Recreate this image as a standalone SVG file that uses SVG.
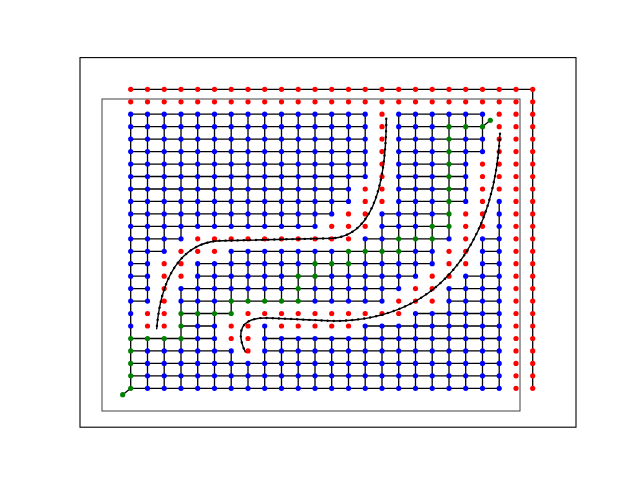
<svg xmlns="http://www.w3.org/2000/svg" width="640" height="480" viewBox="0 0 640 480">
<style>
.e{fill:none;stroke:#000;stroke-width:1.3}
.c{fill:none;stroke:#000;stroke-width:1.4;stroke-linecap:round;stroke-linejoin:round}
.m{fill:none;stroke:#000;stroke-width:2.4;stroke-linecap:round;stroke-dasharray:0.1 6}
</style>
<defs>
<circle id="b" r="2.6" fill="#0000ff"/>
<circle id="r" r="2.6" fill="#ff0000"/>
<circle id="g" r="2.6" fill="#008000"/>
<path id="curve1" d="M386.3 118.7C386 190 370 236 332 238.3L222 240.7C190 241 162 265 156.7 328.7"/>
<path id="curve2" d="M500 133.7C495 230 450 320 334 321L268 318C240 317 236 332 245.3 352"/>
</defs>
<rect width="640" height="480" fill="#fff"/>
<rect id="axes" x="80" y="57.6" width="496" height="369.6" fill="none" stroke="#000" stroke-width="1.1"/>
<rect id="bbox" x="102" y="99" width="418" height="312" fill="none" stroke="#404040" stroke-width="1"/>
<g id="connectors">
<path class="e" d="M130.7 89.3H532.7V388.3"/>
<path class="e" d="M130.7 114.2H365.2M398.7 114.2H482.5M130.7 126.7H365.2M398.7 126.7H482.5M130.7 139.1H365.2M398.7 139.1H482.5M130.7 151.6H365.2M398.7 151.6H482.5M130.7 164.1H365.2M398.7 164.1H465.7M130.7 176.5H365.2M398.7 176.5H465.7M130.7 189H348.5M398.7 189H465.7M130.7 201.4H348.5M398.7 201.4H465.7M130.7 213.9H331.7M382 213.9H449M130.7 226.3H315M382 226.3H449M130.7 238.8H181M365.2 238.8H449M482.5 238.8H499.2M130.7 251.3H164.2M231.2 251.3H432.2M482.5 251.3H499.2M130.7 263.7H147.5M197.7 263.7H432.2M482.5 263.7H499.2M130.7 276.2H147.5M197.7 276.2H415.5M465.7 276.2H499.2M130.7 288.6H147.5M181 288.6H398.7M449 288.6H499.2M130.7 301.1H147.5M181 301.1H382M449 301.1H499.2M181 313.5H231.2M415.5 313.5H499.2M181 326H214.5M365.2 326H499.2M130.7 338.5H214.5M264.7 338.5H499.2M130.7 350.9H231.2M264.7 350.9H499.2M130.7 363.4H499.2M130.7 375.8H499.2M130.7 388.3H499.2"/>
<path class="e" d="M130.7 114.2V388.3M147.5 114.2V301.1M147.5 338.5V388.3M164.2 114.2V251.3M164.2 338.5V388.3M181 114.2V238.8M181 288.6V388.3M197.7 114.2V226.3M197.7 263.7V388.3M214.5 114.2V226.3M214.5 263.7V388.3M231.2 114.2V226.3M231.2 251.3V313.5M231.2 350.9V388.3M248 114.2V226.3M248 251.3V301.1M248 363.4V388.3M264.7 114.2V226.3M264.7 251.3V301.1M264.7 326V388.3M281.5 114.2V226.3M281.5 251.3V301.1M281.5 338.5V388.3M298.2 114.2V226.3M298.2 251.3V301.1M298.2 338.5V388.3M315 114.2V226.3M315 251.3V301.1M315 338.5V388.3M331.7 114.2V213.9M331.7 251.3V301.1M331.7 338.5V388.3M348.5 114.2V201.4M348.5 251.3V301.1M348.5 338.5V388.3M365.2 114.2V176.5M365.2 238.8V301.1M365.2 326V388.3M382 213.9V301.1M382 326V388.3M398.7 114.2V288.6M398.7 326V388.3M415.5 114.2V276.2M415.5 313.5V388.3M432.2 114.2V263.7M432.2 313.5V388.3M449 114.2V238.8M449 288.6V388.3M465.7 114.2V201.4M465.7 276.2V388.3M482.5 114.2V151.6M482.5 238.8V388.3M499.2 201.4V388.3"/>
<path class="e" d="M490.3 120.3L482.5 126.7M122.7 394.7L130.7 388.3"/>
</g>
<g id="nodes">
<g id="row0" transform="translate(0 89.3)"><use href="#r" x="130.7"/><use href="#r" x="147.5"/><use href="#r" x="164.2"/><use href="#r" x="181"/><use href="#r" x="197.7"/><use href="#r" x="214.5"/><use href="#r" x="231.2"/><use href="#r" x="248"/><use href="#r" x="264.7"/><use href="#r" x="281.5"/><use href="#r" x="298.2"/><use href="#r" x="315"/><use href="#r" x="331.7"/><use href="#r" x="348.5"/><use href="#r" x="365.2"/><use href="#r" x="382"/><use href="#r" x="398.7"/><use href="#r" x="415.5"/><use href="#r" x="432.2"/><use href="#r" x="449"/><use href="#r" x="465.7"/><use href="#r" x="482.5"/><use href="#r" x="499.2"/><use href="#r" x="516"/><use href="#r" x="532.7"/></g>
<g id="row1" transform="translate(0 101.8)"><use href="#r" x="130.7"/><use href="#r" x="147.5"/><use href="#r" x="164.2"/><use href="#r" x="181"/><use href="#r" x="197.7"/><use href="#r" x="214.5"/><use href="#r" x="231.2"/><use href="#r" x="248"/><use href="#r" x="264.7"/><use href="#r" x="281.5"/><use href="#r" x="298.2"/><use href="#r" x="315"/><use href="#r" x="331.7"/><use href="#r" x="348.5"/><use href="#r" x="365.2"/><use href="#r" x="382"/><use href="#r" x="398.7"/><use href="#r" x="415.5"/><use href="#r" x="432.2"/><use href="#r" x="449"/><use href="#r" x="465.7"/><use href="#r" x="482.5"/><use href="#r" x="499.2"/><use href="#r" x="516"/><use href="#r" x="532.7"/></g>
<g id="row2" transform="translate(0 114.2)"><use href="#b" x="130.7"/><use href="#b" x="147.5"/><use href="#b" x="164.2"/><use href="#b" x="181"/><use href="#b" x="197.7"/><use href="#b" x="214.5"/><use href="#b" x="231.2"/><use href="#b" x="248"/><use href="#b" x="264.7"/><use href="#b" x="281.5"/><use href="#b" x="298.2"/><use href="#b" x="315"/><use href="#b" x="331.7"/><use href="#b" x="348.5"/><use href="#b" x="365.2"/><use href="#r" x="382"/><use href="#b" x="398.7"/><use href="#b" x="415.5"/><use href="#b" x="432.2"/><use href="#b" x="449"/><use href="#b" x="465.7"/><use href="#b" x="482.5"/><use href="#r" x="499.2"/><use href="#r" x="516"/><use href="#r" x="532.7"/></g>
<g id="row3" transform="translate(0 126.7)"><use href="#b" x="130.7"/><use href="#b" x="147.5"/><use href="#b" x="164.2"/><use href="#b" x="181"/><use href="#b" x="197.7"/><use href="#b" x="214.5"/><use href="#b" x="231.2"/><use href="#b" x="248"/><use href="#b" x="264.7"/><use href="#b" x="281.5"/><use href="#b" x="298.2"/><use href="#b" x="315"/><use href="#b" x="331.7"/><use href="#b" x="348.5"/><use href="#b" x="365.2"/><use href="#r" x="382"/><use href="#b" x="398.7"/><use href="#b" x="415.5"/><use href="#b" x="432.2"/><use href="#g" x="449"/><use href="#g" x="465.7"/><use href="#g" x="482.5"/><use href="#r" x="499.2"/><use href="#r" x="516"/><use href="#r" x="532.7"/></g>
<g id="row4" transform="translate(0 139.1)"><use href="#b" x="130.7"/><use href="#b" x="147.5"/><use href="#b" x="164.2"/><use href="#b" x="181"/><use href="#b" x="197.7"/><use href="#b" x="214.5"/><use href="#b" x="231.2"/><use href="#b" x="248"/><use href="#b" x="264.7"/><use href="#b" x="281.5"/><use href="#b" x="298.2"/><use href="#b" x="315"/><use href="#b" x="331.7"/><use href="#b" x="348.5"/><use href="#b" x="365.2"/><use href="#r" x="382"/><use href="#b" x="398.7"/><use href="#b" x="415.5"/><use href="#b" x="432.2"/><use href="#g" x="449"/><use href="#b" x="465.7"/><use href="#b" x="482.5"/><use href="#r" x="499.2"/><use href="#r" x="516"/><use href="#r" x="532.7"/></g>
<g id="row5" transform="translate(0 151.6)"><use href="#b" x="130.7"/><use href="#b" x="147.5"/><use href="#b" x="164.2"/><use href="#b" x="181"/><use href="#b" x="197.7"/><use href="#b" x="214.5"/><use href="#b" x="231.2"/><use href="#b" x="248"/><use href="#b" x="264.7"/><use href="#b" x="281.5"/><use href="#b" x="298.2"/><use href="#b" x="315"/><use href="#b" x="331.7"/><use href="#b" x="348.5"/><use href="#b" x="365.2"/><use href="#r" x="382"/><use href="#b" x="398.7"/><use href="#b" x="415.5"/><use href="#b" x="432.2"/><use href="#g" x="449"/><use href="#b" x="465.7"/><use href="#b" x="482.5"/><use href="#r" x="499.2"/><use href="#r" x="516"/><use href="#r" x="532.7"/></g>
<g id="row6" transform="translate(0 164.1)"><use href="#b" x="130.7"/><use href="#b" x="147.5"/><use href="#b" x="164.2"/><use href="#b" x="181"/><use href="#b" x="197.7"/><use href="#b" x="214.5"/><use href="#b" x="231.2"/><use href="#b" x="248"/><use href="#b" x="264.7"/><use href="#b" x="281.5"/><use href="#b" x="298.2"/><use href="#b" x="315"/><use href="#b" x="331.7"/><use href="#b" x="348.5"/><use href="#b" x="365.2"/><use href="#r" x="382"/><use href="#b" x="398.7"/><use href="#b" x="415.5"/><use href="#b" x="432.2"/><use href="#g" x="449"/><use href="#b" x="465.7"/><use href="#r" x="482.5"/><use href="#r" x="499.2"/><use href="#r" x="516"/><use href="#r" x="532.7"/></g>
<g id="row7" transform="translate(0 176.5)"><use href="#b" x="130.7"/><use href="#b" x="147.5"/><use href="#b" x="164.2"/><use href="#b" x="181"/><use href="#b" x="197.7"/><use href="#b" x="214.5"/><use href="#b" x="231.2"/><use href="#b" x="248"/><use href="#b" x="264.7"/><use href="#b" x="281.5"/><use href="#b" x="298.2"/><use href="#b" x="315"/><use href="#b" x="331.7"/><use href="#b" x="348.5"/><use href="#b" x="365.2"/><use href="#r" x="382"/><use href="#b" x="398.7"/><use href="#b" x="415.5"/><use href="#b" x="432.2"/><use href="#g" x="449"/><use href="#b" x="465.7"/><use href="#r" x="482.5"/><use href="#r" x="499.2"/><use href="#r" x="516"/><use href="#r" x="532.7"/></g>
<g id="row8" transform="translate(0 189)"><use href="#b" x="130.7"/><use href="#b" x="147.5"/><use href="#b" x="164.2"/><use href="#b" x="181"/><use href="#b" x="197.7"/><use href="#b" x="214.5"/><use href="#b" x="231.2"/><use href="#b" x="248"/><use href="#b" x="264.7"/><use href="#b" x="281.5"/><use href="#b" x="298.2"/><use href="#b" x="315"/><use href="#b" x="331.7"/><use href="#b" x="348.5"/><use href="#r" x="365.2"/><use href="#r" x="382"/><use href="#b" x="398.7"/><use href="#b" x="415.5"/><use href="#b" x="432.2"/><use href="#g" x="449"/><use href="#b" x="465.7"/><use href="#r" x="482.5"/><use href="#r" x="499.2"/><use href="#r" x="516"/><use href="#r" x="532.7"/></g>
<g id="row9" transform="translate(0 201.4)"><use href="#b" x="130.7"/><use href="#b" x="147.5"/><use href="#b" x="164.2"/><use href="#b" x="181"/><use href="#b" x="197.7"/><use href="#b" x="214.5"/><use href="#b" x="231.2"/><use href="#b" x="248"/><use href="#b" x="264.7"/><use href="#b" x="281.5"/><use href="#b" x="298.2"/><use href="#b" x="315"/><use href="#b" x="331.7"/><use href="#b" x="348.5"/><use href="#r" x="365.2"/><use href="#r" x="382"/><use href="#b" x="398.7"/><use href="#b" x="415.5"/><use href="#b" x="432.2"/><use href="#g" x="449"/><use href="#b" x="465.7"/><use href="#r" x="482.5"/><use href="#b" x="499.2"/><use href="#r" x="516"/><use href="#r" x="532.7"/></g>
<g id="row10" transform="translate(0 213.9)"><use href="#b" x="130.7"/><use href="#b" x="147.5"/><use href="#b" x="164.2"/><use href="#b" x="181"/><use href="#b" x="197.7"/><use href="#b" x="214.5"/><use href="#b" x="231.2"/><use href="#b" x="248"/><use href="#b" x="264.7"/><use href="#b" x="281.5"/><use href="#b" x="298.2"/><use href="#b" x="315"/><use href="#b" x="331.7"/><use href="#r" x="348.5"/><use href="#r" x="365.2"/><use href="#b" x="382"/><use href="#b" x="398.7"/><use href="#b" x="415.5"/><use href="#b" x="432.2"/><use href="#g" x="449"/><use href="#r" x="465.7"/><use href="#r" x="482.5"/><use href="#b" x="499.2"/><use href="#r" x="516"/><use href="#r" x="532.7"/></g>
<g id="row11" transform="translate(0 226.3)"><use href="#b" x="130.7"/><use href="#b" x="147.5"/><use href="#b" x="164.2"/><use href="#b" x="181"/><use href="#b" x="197.7"/><use href="#b" x="214.5"/><use href="#b" x="231.2"/><use href="#b" x="248"/><use href="#b" x="264.7"/><use href="#b" x="281.5"/><use href="#b" x="298.2"/><use href="#b" x="315"/><use href="#r" x="331.7"/><use href="#r" x="348.5"/><use href="#r" x="365.2"/><use href="#b" x="382"/><use href="#b" x="398.7"/><use href="#b" x="415.5"/><use href="#g" x="432.2"/><use href="#g" x="449"/><use href="#r" x="465.7"/><use href="#r" x="482.5"/><use href="#b" x="499.2"/><use href="#r" x="516"/><use href="#r" x="532.7"/></g>
<g id="row12" transform="translate(0 238.8)"><use href="#b" x="130.7"/><use href="#b" x="147.5"/><use href="#b" x="164.2"/><use href="#b" x="181"/><use href="#r" x="197.7"/><use href="#r" x="214.5"/><use href="#r" x="231.2"/><use href="#r" x="248"/><use href="#r" x="264.7"/><use href="#r" x="281.5"/><use href="#r" x="298.2"/><use href="#r" x="315"/><use href="#r" x="331.7"/><use href="#r" x="348.5"/><use href="#b" x="365.2"/><use href="#b" x="382"/><use href="#g" x="398.7"/><use href="#g" x="415.5"/><use href="#g" x="432.2"/><use href="#b" x="449"/><use href="#r" x="465.7"/><use href="#b" x="482.5"/><use href="#b" x="499.2"/><use href="#r" x="516"/><use href="#r" x="532.7"/></g>
<g id="row13" transform="translate(0 251.3)"><use href="#b" x="130.7"/><use href="#b" x="147.5"/><use href="#b" x="164.2"/><use href="#r" x="181"/><use href="#r" x="197.7"/><use href="#r" x="214.5"/><use href="#b" x="231.2"/><use href="#b" x="248"/><use href="#b" x="264.7"/><use href="#b" x="281.5"/><use href="#b" x="298.2"/><use href="#b" x="315"/><use href="#b" x="331.7"/><use href="#g" x="348.5"/><use href="#g" x="365.2"/><use href="#g" x="382"/><use href="#g" x="398.7"/><use href="#b" x="415.5"/><use href="#b" x="432.2"/><use href="#r" x="449"/><use href="#r" x="465.7"/><use href="#b" x="482.5"/><use href="#b" x="499.2"/><use href="#r" x="516"/><use href="#r" x="532.7"/></g>
<g id="row14" transform="translate(0 263.7)"><use href="#b" x="130.7"/><use href="#b" x="147.5"/><use href="#r" x="164.2"/><use href="#r" x="181"/><use href="#b" x="197.7"/><use href="#b" x="214.5"/><use href="#b" x="231.2"/><use href="#b" x="248"/><use href="#b" x="264.7"/><use href="#b" x="281.5"/><use href="#b" x="298.2"/><use href="#g" x="315"/><use href="#g" x="331.7"/><use href="#g" x="348.5"/><use href="#b" x="365.2"/><use href="#b" x="382"/><use href="#b" x="398.7"/><use href="#b" x="415.5"/><use href="#b" x="432.2"/><use href="#r" x="449"/><use href="#r" x="465.7"/><use href="#b" x="482.5"/><use href="#b" x="499.2"/><use href="#r" x="516"/><use href="#r" x="532.7"/></g>
<g id="row15" transform="translate(0 276.2)"><use href="#b" x="130.7"/><use href="#b" x="147.5"/><use href="#r" x="164.2"/><use href="#r" x="181"/><use href="#b" x="197.7"/><use href="#b" x="214.5"/><use href="#b" x="231.2"/><use href="#b" x="248"/><use href="#b" x="264.7"/><use href="#b" x="281.5"/><use href="#g" x="298.2"/><use href="#g" x="315"/><use href="#b" x="331.7"/><use href="#b" x="348.5"/><use href="#b" x="365.2"/><use href="#b" x="382"/><use href="#b" x="398.7"/><use href="#b" x="415.5"/><use href="#r" x="432.2"/><use href="#r" x="449"/><use href="#b" x="465.7"/><use href="#b" x="482.5"/><use href="#b" x="499.2"/><use href="#r" x="516"/><use href="#r" x="532.7"/></g>
<g id="row16" transform="translate(0 288.6)"><use href="#b" x="130.7"/><use href="#b" x="147.5"/><use href="#r" x="164.2"/><use href="#b" x="181"/><use href="#b" x="197.7"/><use href="#b" x="214.5"/><use href="#b" x="231.2"/><use href="#b" x="248"/><use href="#b" x="264.7"/><use href="#b" x="281.5"/><use href="#g" x="298.2"/><use href="#b" x="315"/><use href="#b" x="331.7"/><use href="#b" x="348.5"/><use href="#b" x="365.2"/><use href="#b" x="382"/><use href="#b" x="398.7"/><use href="#r" x="415.5"/><use href="#r" x="432.2"/><use href="#b" x="449"/><use href="#b" x="465.7"/><use href="#b" x="482.5"/><use href="#b" x="499.2"/><use href="#r" x="516"/><use href="#r" x="532.7"/></g>
<g id="row17" transform="translate(0 301.1)"><use href="#b" x="130.7"/><use href="#b" x="147.5"/><use href="#r" x="164.2"/><use href="#b" x="181"/><use href="#b" x="197.7"/><use href="#b" x="214.5"/><use href="#g" x="231.2"/><use href="#g" x="248"/><use href="#g" x="264.7"/><use href="#g" x="281.5"/><use href="#g" x="298.2"/><use href="#b" x="315"/><use href="#b" x="331.7"/><use href="#b" x="348.5"/><use href="#b" x="365.2"/><use href="#b" x="382"/><use href="#r" x="398.7"/><use href="#r" x="415.5"/><use href="#r" x="432.2"/><use href="#b" x="449"/><use href="#b" x="465.7"/><use href="#b" x="482.5"/><use href="#b" x="499.2"/><use href="#r" x="516"/><use href="#r" x="532.7"/></g>
<g id="row18" transform="translate(0 313.5)"><use href="#b" x="130.7"/><use href="#r" x="147.5"/><use href="#r" x="164.2"/><use href="#g" x="181"/><use href="#g" x="197.7"/><use href="#g" x="214.5"/><use href="#g" x="231.2"/><use href="#r" x="248"/><use href="#r" x="264.7"/><use href="#r" x="281.5"/><use href="#r" x="298.2"/><use href="#r" x="315"/><use href="#r" x="331.7"/><use href="#r" x="348.5"/><use href="#r" x="365.2"/><use href="#r" x="382"/><use href="#r" x="398.7"/><use href="#b" x="415.5"/><use href="#b" x="432.2"/><use href="#b" x="449"/><use href="#b" x="465.7"/><use href="#b" x="482.5"/><use href="#b" x="499.2"/><use href="#r" x="516"/><use href="#r" x="532.7"/></g>
<g id="row19" transform="translate(0 326)"><use href="#b" x="130.7"/><use href="#r" x="147.5"/><use href="#r" x="164.2"/><use href="#g" x="181"/><use href="#b" x="197.7"/><use href="#b" x="214.5"/><use href="#r" x="231.2"/><use href="#r" x="248"/><use href="#b" x="264.7"/><use href="#r" x="281.5"/><use href="#r" x="298.2"/><use href="#r" x="315"/><use href="#r" x="331.7"/><use href="#r" x="348.5"/><use href="#b" x="365.2"/><use href="#b" x="382"/><use href="#b" x="398.7"/><use href="#b" x="415.5"/><use href="#b" x="432.2"/><use href="#b" x="449"/><use href="#b" x="465.7"/><use href="#b" x="482.5"/><use href="#b" x="499.2"/><use href="#r" x="516"/><use href="#r" x="532.7"/></g>
<g id="row20" transform="translate(0 338.5)"><use href="#g" x="130.7"/><use href="#g" x="147.5"/><use href="#g" x="164.2"/><use href="#g" x="181"/><use href="#b" x="197.7"/><use href="#b" x="214.5"/><use href="#r" x="231.2"/><use href="#r" x="248"/><use href="#b" x="264.7"/><use href="#b" x="281.5"/><use href="#b" x="298.2"/><use href="#b" x="315"/><use href="#b" x="331.7"/><use href="#b" x="348.5"/><use href="#b" x="365.2"/><use href="#b" x="382"/><use href="#b" x="398.7"/><use href="#b" x="415.5"/><use href="#b" x="432.2"/><use href="#b" x="449"/><use href="#b" x="465.7"/><use href="#b" x="482.5"/><use href="#b" x="499.2"/><use href="#r" x="516"/><use href="#r" x="532.7"/></g>
<g id="row21" transform="translate(0 350.9)"><use href="#g" x="130.7"/><use href="#b" x="147.5"/><use href="#b" x="164.2"/><use href="#b" x="181"/><use href="#b" x="197.7"/><use href="#b" x="214.5"/><use href="#b" x="231.2"/><use href="#r" x="248"/><use href="#b" x="264.7"/><use href="#b" x="281.5"/><use href="#b" x="298.2"/><use href="#b" x="315"/><use href="#b" x="331.7"/><use href="#b" x="348.5"/><use href="#b" x="365.2"/><use href="#b" x="382"/><use href="#b" x="398.7"/><use href="#b" x="415.5"/><use href="#b" x="432.2"/><use href="#b" x="449"/><use href="#b" x="465.7"/><use href="#b" x="482.5"/><use href="#b" x="499.2"/><use href="#r" x="516"/><use href="#r" x="532.7"/></g>
<g id="row22" transform="translate(0 363.4)"><use href="#g" x="130.7"/><use href="#b" x="147.5"/><use href="#b" x="164.2"/><use href="#b" x="181"/><use href="#b" x="197.7"/><use href="#b" x="214.5"/><use href="#b" x="231.2"/><use href="#b" x="248"/><use href="#b" x="264.7"/><use href="#b" x="281.5"/><use href="#b" x="298.2"/><use href="#b" x="315"/><use href="#b" x="331.7"/><use href="#b" x="348.5"/><use href="#b" x="365.2"/><use href="#b" x="382"/><use href="#b" x="398.7"/><use href="#b" x="415.5"/><use href="#b" x="432.2"/><use href="#b" x="449"/><use href="#b" x="465.7"/><use href="#b" x="482.5"/><use href="#b" x="499.2"/><use href="#r" x="516"/><use href="#r" x="532.7"/></g>
<g id="row23" transform="translate(0 375.8)"><use href="#g" x="130.7"/><use href="#b" x="147.5"/><use href="#b" x="164.2"/><use href="#b" x="181"/><use href="#b" x="197.7"/><use href="#b" x="214.5"/><use href="#b" x="231.2"/><use href="#b" x="248"/><use href="#b" x="264.7"/><use href="#b" x="281.5"/><use href="#b" x="298.2"/><use href="#b" x="315"/><use href="#b" x="331.7"/><use href="#b" x="348.5"/><use href="#b" x="365.2"/><use href="#b" x="382"/><use href="#b" x="398.7"/><use href="#b" x="415.5"/><use href="#b" x="432.2"/><use href="#b" x="449"/><use href="#b" x="465.7"/><use href="#b" x="482.5"/><use href="#b" x="499.2"/><use href="#r" x="516"/><use href="#r" x="532.7"/></g>
<g id="row24" transform="translate(0 388.3)"><use href="#g" x="130.7"/><use href="#b" x="147.5"/><use href="#b" x="164.2"/><use href="#b" x="181"/><use href="#b" x="197.7"/><use href="#b" x="214.5"/><use href="#b" x="231.2"/><use href="#b" x="248"/><use href="#b" x="264.7"/><use href="#b" x="281.5"/><use href="#b" x="298.2"/><use href="#b" x="315"/><use href="#b" x="331.7"/><use href="#b" x="348.5"/><use href="#b" x="365.2"/><use href="#b" x="382"/><use href="#b" x="398.7"/><use href="#b" x="415.5"/><use href="#b" x="432.2"/><use href="#b" x="449"/><use href="#b" x="465.7"/><use href="#b" x="482.5"/><use href="#b" x="499.2"/><use href="#r" x="516"/><use href="#r" x="532.7"/></g>
<g id="start"><use href="#g" x="490.3" y="120.3"/></g>
<g id="goal"><use href="#g" x="122.7" y="394.7"/></g>
</g>
<g id="curves">
<use href="#curve1" class="c"/>
<use href="#curve1" class="m"/>
<use href="#curve2" class="c"/>
<use href="#curve2" class="m"/>
</g>
</svg>
